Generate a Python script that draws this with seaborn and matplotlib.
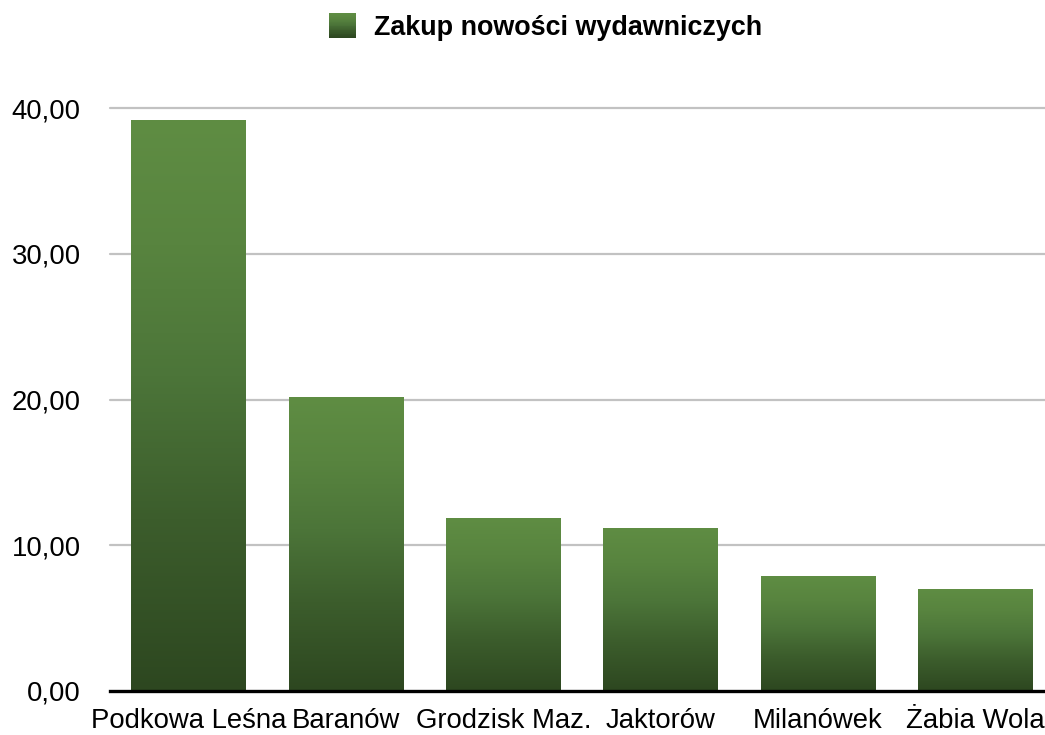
import numpy as np
import pandas as pd
import matplotlib
matplotlib.use("Agg")
import matplotlib.pyplot as plt
import seaborn as sns
from matplotlib.colors import LinearSegmentedColormap
from matplotlib.patches import Rectangle
from matplotlib.legend_handler import HandlerBase

# data
towns = ["Podkowa Leśna", "Baranów", "Grodzisk Maz.", "Jaktorów", "Milanówek", "Żabia Wola"]
values = [39.2, 20.2, 11.9, 11.2, 7.9, 7.0]
series_name = "Zakup nowości wydawniczych"
yticks = [0, 10, 20, 30, 40]

df = pd.DataFrame({"town": towns, "value": values})

sns.set_theme(style="white")
plt.rcParams["font.family"] = ["Liberation Sans", "DejaVu Sans"]

# bottom (dark) -> top (light)
green = LinearSegmentedColormap.from_list(
    "green", [(0.0, "#2d4720"), (0.3, "#3c5d2c"), (0.55, "#4c7539"),
              (0.78, "#58843f"), (1.0, "#5f8d43")])

fig = plt.figure(figsize=(10.45, 7.35), dpi=100)
ax = fig.add_axes([110 / 1045, 44 / 735, 944 / 1045, 583 / 735])

sns.barplot(data=df, x="town", y="value", color="#4d7636", width=0.73, ax=ax, zorder=3)

# gradient fill per bar
grad = np.linspace(0, 1, 256).reshape(-1, 1)
for bar in ax.patches:
    x0, y0 = bar.get_x(), bar.get_y()
    w, h = bar.get_width(), bar.get_height()
    im = ax.imshow(grad, cmap=green, origin="lower", aspect="auto",
                   extent=[x0, x0 + w, y0, y0 + h], zorder=3, interpolation="bicubic")
    im.set_clip_path(bar)
    bar.set_facecolor("none")
    bar.set_edgecolor("none")

ax.set_xlim(-0.5, 5.5)
ax.set_ylim(0, 40)
ax.set_yticks(yticks)
ax.set_yticklabels([f"{v:.2f}".replace(".", ",") for v in yticks])
ax.set_xlabel("")
ax.set_ylabel("")
for y in yticks[1:]:
    ax.axhline(y, color="#c2c2c2", lw=1.6, zorder=1, clip_on=False)
for s in ["top", "right", "left"]:
    ax.spines[s].set_visible(False)
ax.spines["bottom"].set_color("black")
ax.spines["bottom"].set_linewidth(2.4)
ax.spines["bottom"].set_zorder(4)
ax.tick_params(axis="y", length=0, pad=21, labelsize=19.8, labelcolor="black")
ax.tick_params(axis="x", length=0, pad=12, labelsize=19.8, labelcolor="black")


class GradientHandler(HandlerBase):
    def create_artists(self, legend, orig_handle, xdescent, ydescent, width, height, fontsize, trans):
        n = 30
        arts = []
        for i in range(n):
            r = Rectangle((-xdescent, -ydescent + height * i / n), width, height / n + 0.3,
                          facecolor=green(i / (n - 1)), edgecolor="none", transform=trans)
            arts.append(r)
        return arts


handle = Rectangle((0, 0), 1, 1)
leg = fig.legend([handle], [series_name], loc="upper center", bbox_to_anchor=(0.522, 1.0),
                 frameon=False, handler_map={Rectangle: GradientHandler()},
                 prop={"weight": "bold", "size": 19.4}, handlelength=1.0, handleheight=1.0,
                 handletextpad=0.65, borderaxespad=0.1)
for t in leg.get_texts():
    t.set_color("black")

fig.savefig("out.png", dpi=100, facecolor="white")
